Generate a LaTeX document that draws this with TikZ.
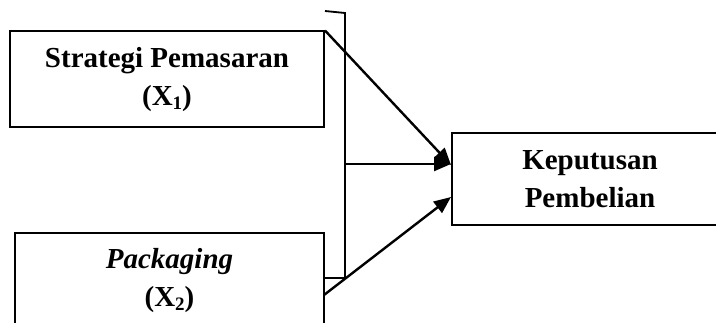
\documentclass[tikz,border=0pt]{standalone}
\usepackage{fontspec}
\setmainfont{Liberation Serif}
\usetikzlibrary{arrows.meta,calc}
\newcommand{\sbx}[1]{\raisebox{-0.3ex}{\fontsize{19}{19}\selectfont #1}}
\begin{document}
\begin{tikzpicture}[x=1pt,y=-1pt,
  box/.style={draw, line width=2pt, align=center, inner sep=0pt,
    font=\fontsize{29}{38}\selectfont\bfseries},
  arr/.style={line width=2.4pt, -{Triangle[length=17pt,width=14pt]}},
  brk/.style={line width=1.8pt}]
\useasboundingbox (0,0) rectangle (716,323);
\clip (0,0) rectangle (716,323);
\node[box, minimum width=314pt, minimum height=96pt] (s) at (167,79.5)
  {Strategi Pemasaran\\(X\sbx{1})};
\node[box, minimum width=309pt, minimum height=96pt] (p) at (169.5,281)
  {\textit{Packaging}\\(X\sbx{2})};
\node[box, minimum width=276pt, minimum height=92pt] (k) at (590,179)
  {Keputusan\\Pembelian};
\coordinate (bt0) at (325,11);
\coordinate (bt1) at (345,13);
\coordinate (bb) at (345,278);
\coordinate (m) at (345,164);
\coordinate (q) at (324,295);
\draw[brk] (bt0) -- (bt1) -- (bb) -- (p.east |- bb);
\draw[arr] (s.north east) -- ($(k.west)+(0,-14)$);
\draw[arr] (m) -- (k.west |- m);
\draw[arr] (q) -- ($(k.west)+(0,18)$);
\end{tikzpicture}
\end{document}
